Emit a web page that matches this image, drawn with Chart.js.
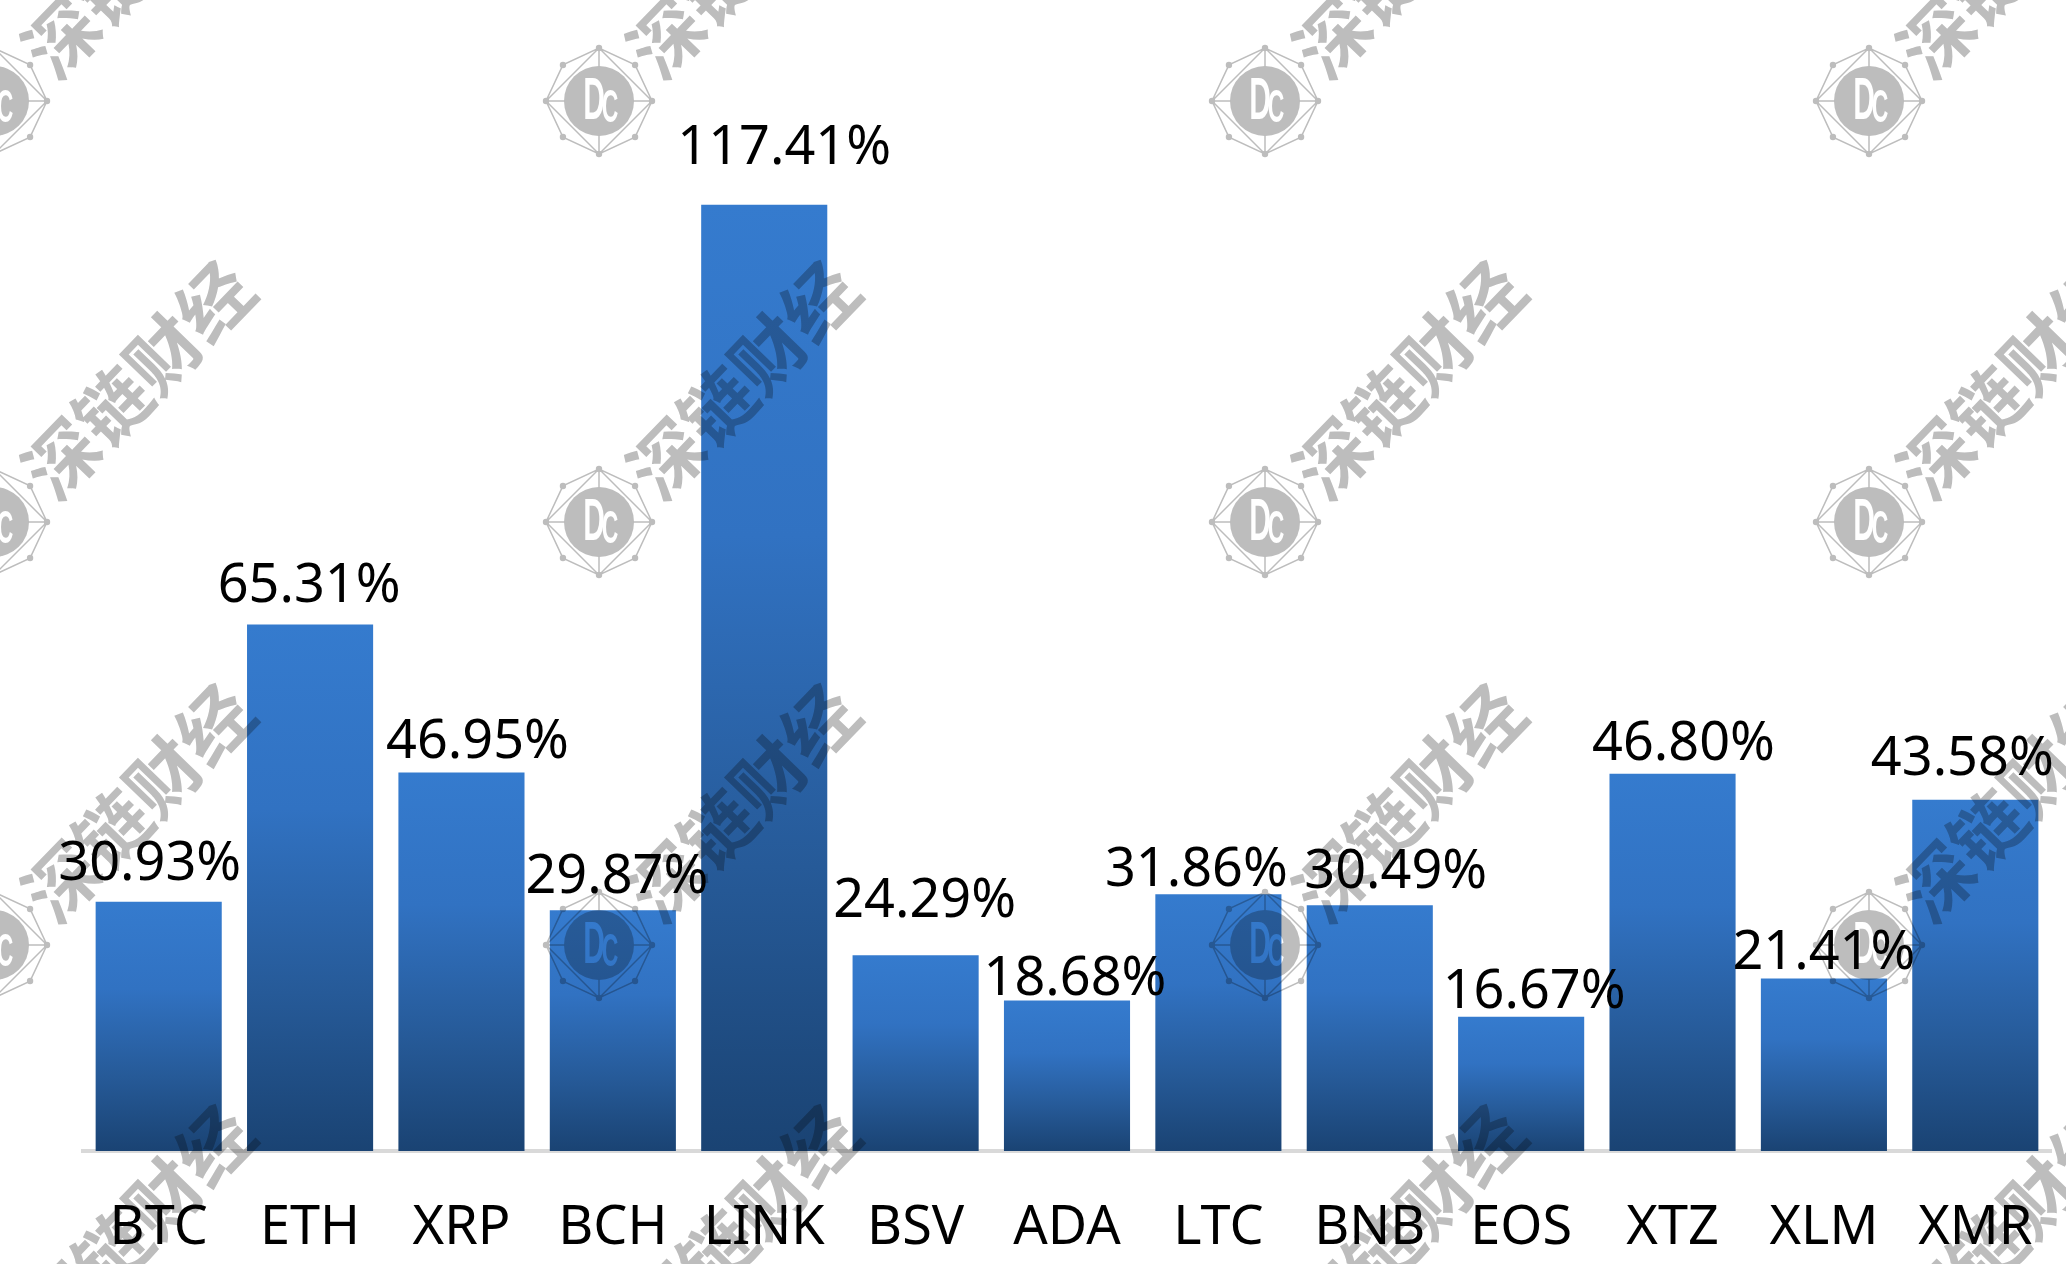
<!DOCTYPE html>
<html>
<head>
<meta charset="utf-8">
<title>Chart</title>
<script src="https://cdn.jsdelivr.net/npm/chart.js@4"></script>
<style>
  html, body { margin: 0; padding: 0; background: #fff; }
  canvas { display: block; }
</style>
</head>
<body>
<canvas id="gainChart" width="2066" height="1264"></canvas>
<script>
const coins = ["BTC", "ETH", "XRP", "BCH", "LINK", "BSV", "ADA", "LTC", "BNB", "EOS", "XTZ", "XLM", "XMR"];
const gains = [30.93, 65.31, 46.95, 29.87, 117.41, 24.29, 18.68, 31.86, 30.49, 16.67, 46.80, 21.41, 43.58];

// the labels were placed by hand in the original, so they sit off centre
const labelShiftX = [-9, -1, 16, 4, 20, 9, 8, -22, 26, 13, 11, 0, -13];
const labelGapY = [22, 23, 15, 17, 41, 38, 5, 8, 17, 9, 14, 9, 25];

const markCols = [-6, 599, 1265, 1869];
const markRows = [101, 522, 945, 1366];
const markText = "深链财经";
const markGray = "#bdbdbd";

// gradient goes from the top to the bottom of each single bar
function barGradient(ctx) {
    const chart = ctx.chart;
    if (!chart.scales.y || ctx.raw === undefined) return "#357bce";
    const top = chart.scales.y.getPixelForValue(ctx.raw);
    const bottom = chart.scales.y.getPixelForValue(0);
    if (!isFinite(top) || !isFinite(bottom)) return "#357bce";
    const g = chart.ctx.createLinearGradient(0, top, 0, bottom);
    g.addColorStop(0, "#357bce");
    g.addColorStop(0.35, "#3172c2");
    g.addColorStop(0.7, "#265a98");
    g.addColorStop(1, "#1a4373");
    return g;
}

function knockOutLetter(c, letter, size, x, y) {
    c.save();
    c.globalCompositeOperation = "destination-out";
    c.font = "bold " + size + "px 'Liberation Sans'";
    c.textAlign = "center";
    c.textBaseline = "middle";
    c.translate(x, y);
    c.scale(0.5, 1);
    c.fillStyle = "#000";
    c.fillText(letter, 0, 0);
    c.restore();
}

function drawLogo(c, x, y) {
    const nodes = [];
    for (let i = 0; i < 8; i++) {
        const a = i * Math.PI / 4;
        const r = i % 2 ? 51 : 53;
        nodes.push([x + Math.cos(a) * r, y + Math.sin(a) * r]);
    }
    c.strokeStyle = markGray;
    c.fillStyle = markGray;
    c.lineWidth = 1.5;
    c.beginPath();
    nodes.forEach((n, i) => (i ? c.lineTo(n[0], n[1]) : c.moveTo(n[0], n[1])));
    c.closePath();
    // inner diamond and the cross
    [0, 2, 4, 6].forEach((i, k, list) => {
        const a = nodes[i], b = nodes[list[(k + 1) % 4]];
        c.moveTo(a[0], a[1]);
        c.lineTo(b[0], b[1]);
        c.moveTo(a[0], a[1]);
        c.lineTo(x, y);
    });
    c.stroke();
    nodes.forEach(n => {
        c.beginPath();
        c.arc(n[0], n[1], 3.2, 0, Math.PI * 2);
        c.fill();
    });
    c.beginPath();
    c.arc(x, y, 35, 0, Math.PI * 2);
    c.fill();

    knockOutLetter(c, "D", 60, x - 5, y + 1);
    knockOutLetter(c, "C", 46, x + 11, y + 8);
}

const watermark = {
    id: "watermark",
    afterDraw(chart) {
        const layer = document.createElement("canvas");
        layer.width = chart.width;
        layer.height = chart.height;
        const c = layer.getContext("2d");
        markRows.forEach(y => {
            markCols.forEach(x => {
                drawLogo(c, x, y);
                c.save();
                c.translate(x + 144, y - 142);
                c.rotate(-46 * Math.PI / 180);
                c.font = "bold 73px 'Noto Sans CJK SC'";
                c.textAlign = "center";
                c.textBaseline = "middle";
                c.fillStyle = markGray;
                c.fillText(markText, 0, 0);
                c.restore();
            });
        });
        const ctx = chart.ctx;
        ctx.save();
        ctx.globalCompositeOperation = "multiply";
        ctx.drawImage(layer, 0, 0, chart.width, chart.height);
        ctx.restore();
    }
};

const valueLabels = {
    id: "valueLabels",
    afterDraw(chart) {
        const ctx = chart.ctx;
        const x = chart.scales.x;
        const y = chart.scales.y;
        ctx.save();
        ctx.font = "54px 'Noto Sans'";
        ctx.fillStyle = "#000";
        ctx.textAlign = "center";
        ctx.textBaseline = "alphabetic";
        gains.forEach((v, i) => {
            ctx.fillText(
                v.toFixed(2) + "%",
                x.getPixelForValue(i) + labelShiftX[i],
                y.getPixelForValue(v) - labelGapY[i]
            );
        });
        ctx.restore();
    }
};

new Chart(document.getElementById("gainChart").getContext("2d"), {
    type: "bar",
    data: {
        labels: coins,
        datasets: [{
            data: gains,
            backgroundColor: barGradient,
            barPercentage: 0.833,
            categoryPercentage: 1
        }]
    },
    options: {
        responsive: false,
        animation: false,
        layout: { padding: { left: 83, right: 15, top: 0, bottom: 0 } },
        plugins: { legend: { display: false }, tooltip: { enabled: false } },
        scales: {
            x: {
                z: 1,
                // no extra room for the outer tick labels, they fit inside their bands
                afterFit: s => {
                    s.height = 113;
                    s.paddingLeft = 0;
                    s.paddingRight = 0;
                },
                grid: { display: false, drawTicks: false },
                border: { display: true, color: "#d9d9d9", width: 4 },
                ticks: {
                    color: "#000",
                    padding: 45,
                    maxRotation: 0,
                    autoSkip: false,
                    font: { family: "'Noto Sans'", size: 54 }
                }
            },
            y: {
                display: false,
                min: 0,
                max: 142.8
            }
        }
    },
    plugins: [watermark, valueLabels]
});
</script>
</body>
</html>
